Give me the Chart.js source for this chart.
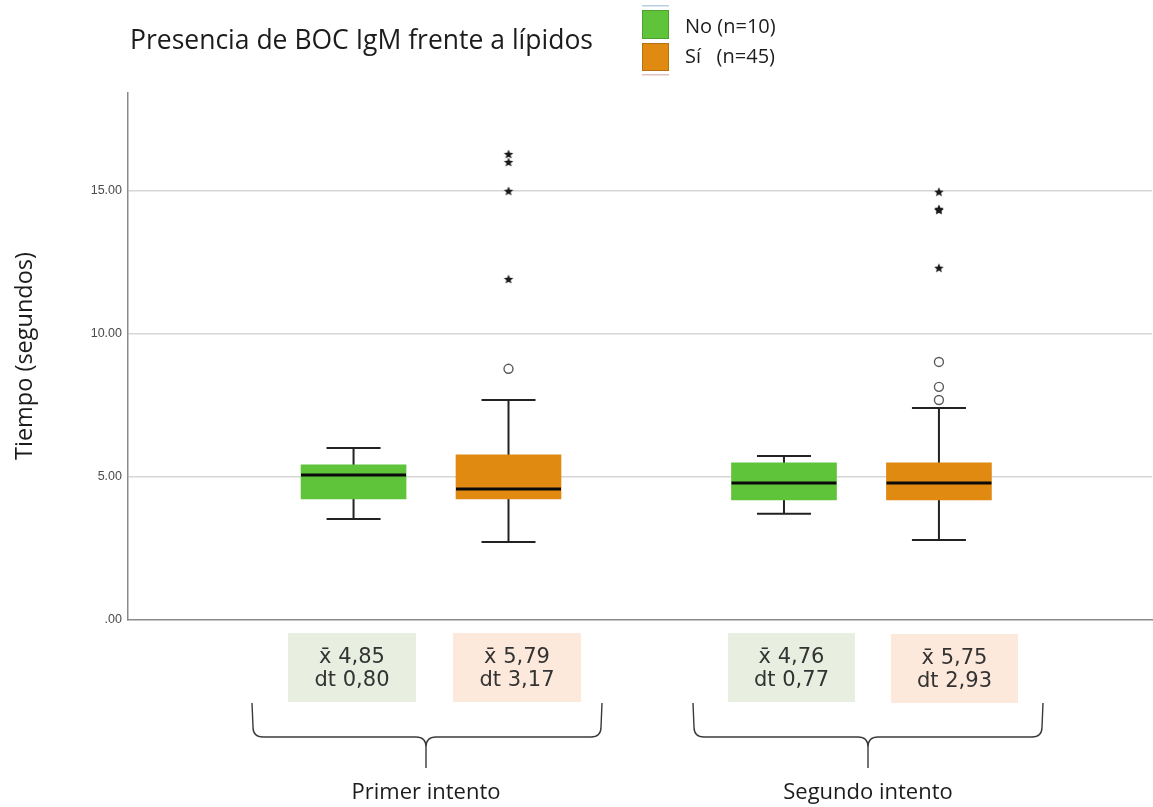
<!DOCTYPE html>
<html>
<head>
<meta charset="utf-8">
<title>Presencia de BOC IgM frente a lípidos</title>
<script src="https://cdn.jsdelivr.net/npm/chart.js@4.4.1/dist/chart.umd.min.js"></script>
<style>
  html, body { margin: 0; padding: 0; background: #ffffff; }
  #wrap { width: 1153px; height: 807px; position: relative; }
</style>
</head>
<body>
<div id="wrap"><canvas id="c" width="1153" height="807"></canvas></div>
<script>
// ---- data -------------------------------------------------------------
const categories = ['Primer intento', 'Segundo intento'];
const seriesNames = ['No (n=10)', 'Sí   (n=45)'];

// five-number summaries (seconds), one value per attempt
const noMin    = [3.53, 3.71];
const noQ1     = [4.23, 4.20];
const noMedian = [5.07, 4.79];
const noQ3     = [5.42, 5.49];
const noMax    = [6.01, 5.73];

const siMin    = [2.73, 2.80];
const siQ1     = [4.23, 4.20];
const siMedian = [4.58, 4.79];
const siQ3     = [5.77, 5.49];
const siMax    = [7.69, 7.41];

// atypical values (circles) and extreme values (stars) of the "Sí" group
const siOutliers = [[8.78], [9.02, 8.15, 7.69]];
const siExtremes = [[16.29, 16.01, 15.00, 11.92], [14.97, 14.37, 14.33, 12.31]];

// mean and standard deviation printed under each box
const noMean = [4.85, 4.76];
const noSd   = [0.80, 0.77];
const siMean = [5.79, 5.75];
const siSd   = [3.17, 2.93];

const yTicks = [0, 5, 10, 15];

// ---- styling / layout ---------------------------------------------------
const GREEN = '#60c43a';
const ORANGE = '#e08a12';
const OFFSET = 0.18;            // half distance between the two boxes of an attempt
const BOX_PX = 105;             // box width
const CAP_PX = 54;              // whisker cap width
const UI_FONT = '"Open Sans", "Noto Sans", sans-serif';

const posNo = i => i + 1 - OFFSET;
const posSi = i => i + 1 + OFFSET;

const boxSeries = [
  { pos: posNo, min: noMin, q1: noQ1, med: noMedian, q3: noQ3, max: noMax },
  { pos: posSi, min: siMin, q1: siQ1, med: siMedian, q3: siQ3, max: siMax }
];

function makeStar(r, color) {
  const s = Math.ceil(r * 2 + 2);
  const c = document.createElement('canvas');
  c.width = s; c.height = s;
  const g = c.getContext('2d');
  g.translate(s / 2, s / 2 + 0.5);
  g.beginPath();
  for (let k = 0; k < 10; k++) {
    const rad = k % 2 ? r * 0.45 : r;
    const a = -Math.PI / 2 + k * Math.PI / 5;
    g.lineTo(rad * Math.cos(a), rad * Math.sin(a));
  }
  g.closePath();
  g.fillStyle = color;
  g.fill();
  return c;
}
const starImg = makeStar(5, '#1a1a1a');

// whiskers behind the boxes, medians on top of them
const boxPlotPlugin = {
  id: 'boxPlot',
  beforeDatasetsDraw(chart) {
    const { ctx, scales: { x, y } } = chart;
    ctx.save();
    ctx.strokeStyle = '#222222';
    ctx.lineWidth = 2;
    boxSeries.forEach(s => {
      categories.forEach((c, i) => {
        const xc = x.getPixelForValue(s.pos(i));
        const yMin = y.getPixelForValue(s.min[i]);
        const yQ1 = y.getPixelForValue(s.q1[i]);
        const yQ3 = y.getPixelForValue(s.q3[i]);
        const yMax = y.getPixelForValue(s.max[i]);
        ctx.beginPath();
        ctx.moveTo(xc, yQ1); ctx.lineTo(xc, yMin);
        ctx.moveTo(xc, yQ3); ctx.lineTo(xc, yMax);
        ctx.moveTo(xc - CAP_PX / 2, yMin); ctx.lineTo(xc + CAP_PX / 2, yMin);
        ctx.moveTo(xc - CAP_PX / 2, yMax); ctx.lineTo(xc + CAP_PX / 2, yMax);
        ctx.stroke();
      });
    });
    ctx.restore();
  },
  afterDatasetsDraw(chart) {
    const { ctx, scales: { x, y } } = chart;
    ctx.save();
    ctx.strokeStyle = '#0a0a0a';
    ctx.lineWidth = 3;
    boxSeries.forEach(s => {
      categories.forEach((c, i) => {
        const xc = x.getPixelForValue(s.pos(i));
        const ym = y.getPixelForValue(s.med[i]);
        ctx.beginPath();
        ctx.moveTo(xc - BOX_PX / 2, ym);
        ctx.lineTo(xc + BOX_PX / 2, ym);
        ctx.stroke();
      });
    });
    ctx.restore();
  }
};

// title, legend, axis title, summary boxes and group braces
const fmt = v => v.toFixed(2).replace('.', ',');
const statRects = [
  [288, 633, 128, 69], [453, 633, 128, 69],
  [728, 633, 127, 69], [891, 634, 127, 69]
];
const braces = [
  { L: 252, R: 602, C: 426 },
  { L: 693, R: 1043, C: 868 }
];

const decorPlugin = {
  id: 'decor',
  afterDraw(chart) {
    const ctx = chart.ctx;
    ctx.save();

    // chart title
    ctx.fillStyle = '#1c1c1c';
    ctx.font = '26.5px ' + UI_FONT;
    ctx.textAlign = 'left';
    ctx.textBaseline = 'alphabetic';
    ctx.fillText('Presencia de BOC IgM frente a lípidos', 130, 49);

    // legend
    const ds = chart.data.datasets;
    ctx.fillStyle = '#b8cde8';
    ctx.fillRect(642, 5, 27, 1.5);
    ctx.fillStyle = '#e2c0c0';
    ctx.fillRect(642, 74, 27, 1.5);
    [[ds[0], 10, 29, 33], [ds[1], 43, 28, 63]].forEach(([d, top, h, base]) => {
      ctx.fillStyle = d.backgroundColor;
      ctx.fillRect(642, top, 27, h);
      ctx.strokeStyle = 'rgba(0,0,0,0.18)';
      ctx.lineWidth = 1;
      ctx.strokeRect(642.5, top + 0.5, 26, h - 1);
      ctx.fillStyle = '#1c1c1c';
      ctx.font = '20px ' + UI_FONT;
      ctx.fillText(d.label, 685, base);
    });

    // y axis title
    ctx.save();
    ctx.translate(32, 356);
    ctx.rotate(-Math.PI / 2);
    ctx.textAlign = 'center';
    ctx.font = '23.5px ' + UI_FONT;
    ctx.fillStyle = '#1c1c1c';
    ctx.fillText('Tiempo (segundos)', 0, 0);
    ctx.restore();

    // mean / sd panels
    const stats = [
      [noMean[0], noSd[0], '#e9efe0'], [siMean[0], siSd[0], '#fde9db'],
      [noMean[1], noSd[1], '#e9efe0'], [siMean[1], siSd[1], '#fde9db']
    ];
    stats.forEach(([m, sd, bg], k) => {
      const [rx, ry, rw, rh] = statRects[k];
      ctx.fillStyle = bg;
      ctx.fillRect(rx, ry, rw, rh);
      ctx.fillStyle = '#333333';
      ctx.font = '21px "DejaVu Sans", sans-serif';
      ctx.textAlign = 'center';
      ctx.fillText('x\u0304 ' + fmt(m), rx + rw / 2, ry + 30);
      ctx.fillText('dt ' + fmt(sd), rx + rw / 2, ry + 53);
    });

    // braces grouping each attempt
    const T = 703, H = 737, B = 768, r = 10;
    ctx.strokeStyle = '#3a3a3a';
    ctx.lineWidth = 1.4;
    braces.forEach(b => {
      ctx.beginPath();
      ctx.moveTo(b.L, T);
      ctx.lineTo(b.L + 1, H - r);
      ctx.quadraticCurveTo(b.L + 1, H, b.L + 1 + r, H);
      ctx.lineTo(b.C - r, H);
      ctx.quadraticCurveTo(b.C, H, b.C, H + r);
      ctx.lineTo(b.C, B);
      ctx.moveTo(b.C, H + r);
      ctx.quadraticCurveTo(b.C, H, b.C + r, H);
      ctx.lineTo(b.R - 1 - r, H);
      ctx.quadraticCurveTo(b.R - 1, H, b.R - 1, H - r);
      ctx.lineTo(b.R, T);
      ctx.stroke();
    });

    // attempt labels
    ctx.fillStyle = '#1c1c1c';
    ctx.font = '22px ' + UI_FONT;
    ctx.textAlign = 'center';
    categories.forEach((c, i) => ctx.fillText(c, braces[i].C, 799));

    ctx.restore();
  }
};

const datasets = [
  {
    type: 'bar',
    label: seriesNames[0],
    data: categories.map((c, i) => ({ x: posNo(i), y: [noQ1[i], noQ3[i]] })),
    backgroundColor: GREEN,
    borderWidth: 0,
    grouped: false,
    barThickness: BOX_PX
  },
  {
    type: 'bar',
    label: seriesNames[1],
    data: categories.map((c, i) => ({ x: posSi(i), y: [siQ1[i], siQ3[i]] })),
    backgroundColor: ORANGE,
    borderWidth: 0,
    grouped: false,
    barThickness: BOX_PX
  },
  {
    type: 'scatter',
    label: 'Atípicos',
    data: siOutliers.flatMap((arr, i) => arr.map(v => ({ x: posSi(i), y: v }))),
    pointStyle: 'circle',
    pointRadius: 4.5,
    backgroundColor: '#ffffff',
    borderColor: '#5a5a5a',
    borderWidth: 1.4
  },
  {
    type: 'scatter',
    label: 'Extremos',
    data: siExtremes.flatMap((arr, i) => arr.map(v => ({ x: posSi(i), y: v }))),
    pointStyle: starImg,
    pointRadius: 5
  }
];

new Chart(document.getElementById('c'), {
  type: 'bar',
  data: { datasets },
  options: {
    responsive: false,
    animation: false,
    events: [],
    layout: { autoPadding: false, padding: { top: 93, bottom: 187, left: 0, right: 1 } },
    plugins: {
      legend: { display: false },
      title: { display: false },
      tooltip: { enabled: false }
    },
    scales: {
      x: {
        type: 'linear',
        offset: false,
        min: 0.296,
        max: 2.675,
        ticks: { display: false },
        grid: { display: false, drawTicks: false, offset: false },
        border: { display: true, color: '#8a8a8a', width: 1.5 },
        afterFit: s => { s.height = 0; s.paddingLeft = 0; s.paddingRight = 0; }
      },
      y: {
        type: 'linear',
        min: 0,
        max: 18.42,
        afterBuildTicks: s => { s.ticks = yTicks.map(v => ({ value: v })); },
        ticks: {
          callback: v => v.toFixed(2).replace(/^0\./, '.'),
          color: '#4a4a4a',
          font: { family: '"Liberation Sans", Arial, sans-serif', size: 12.5 },
          padding: 6
        },
        grid: {
          color: ctx => (ctx.tick && ctx.tick.value === 0) ? 'rgba(0,0,0,0)' : '#d6d6d6',
          lineWidth: 1.5,
          drawTicks: false
        },
        border: { color: '#8a8a8a', width: 1.5 },
        afterFit: s => { s.width = 128; }
      }
    }
  },
  plugins: [boxPlotPlugin, decorPlugin]
});
</script>
</body>
</html>
